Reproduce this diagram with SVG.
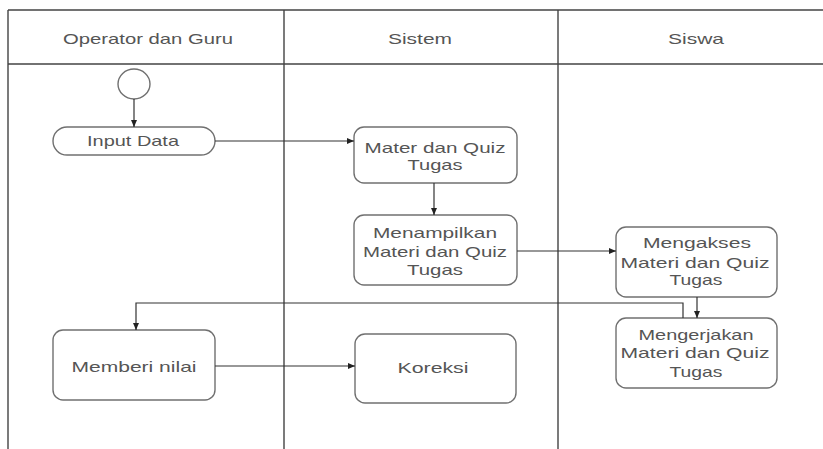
<svg xmlns="http://www.w3.org/2000/svg" width="823" height="449" viewBox="0 0 823 449">
<defs>
<marker id="arr" markerUnits="userSpaceOnUse" markerWidth="8" markerHeight="8" refX="7" refY="4" orient="auto">
<path d="M0,1 L7,4 L0,7 Z" fill="#222"/>
</marker>
<style>
.frame{stroke:#444;stroke-width:1.4;fill:none}
.node{fill:#fff;stroke:#707070;stroke-width:1.4}
.edge{fill:none;stroke:#333;stroke-width:1.2;marker-end:url(#arr)}
text{font-family:"Liberation Sans",Arial,sans-serif;font-size:15px;fill:#555;text-anchor:middle}
</style>
</defs>
<rect width="823" height="449" fill="#fff"/>
<g id="lanes">
<path class="frame" d="M8,10 H823 M8,64 H823 M8,10 V449 M284,10 V449 M558,10 V449"/>
<text x="148" y="44" textLength="170" lengthAdjust="spacingAndGlyphs">Operator dan Guru</text>
<text x="420" y="44" textLength="64" lengthAdjust="spacingAndGlyphs">Sistem</text>
<text x="696" y="44" textLength="56" lengthAdjust="spacingAndGlyphs">Siswa</text>
</g>
<g id="start"><ellipse class="node" cx="134" cy="84" rx="16" ry="15"/></g>
<g id="input-data">
<rect class="node" x="53" y="127" width="162" height="28" rx="14"/>
<text x="133" y="146" textLength="92" lengthAdjust="spacingAndGlyphs">Input Data</text>
</g>
<g id="mater">
<rect class="node" x="354" y="127" width="163" height="56" rx="10"/>
<text x="435" y="153" textLength="141" lengthAdjust="spacingAndGlyphs">Mater dan Quiz</text>
<text x="435" y="170" textLength="55" lengthAdjust="spacingAndGlyphs">Tugas</text>
</g>
<g id="menampilkan">
<rect class="node" x="354" y="215" width="163" height="70" rx="10"/>
<text x="435" y="238" textLength="124" lengthAdjust="spacingAndGlyphs">Menampilkan</text>
<text x="435" y="257" textLength="144" lengthAdjust="spacingAndGlyphs">Materi dan Quiz</text>
<text x="435" y="275" textLength="56" lengthAdjust="spacingAndGlyphs">Tugas</text>
</g>
<g id="mengakses">
<rect class="node" x="616" y="227" width="161" height="70" rx="10"/>
<text x="697" y="248" textLength="108" lengthAdjust="spacingAndGlyphs">Mengakses</text>
<text x="695" y="268" textLength="149" lengthAdjust="spacingAndGlyphs">Materi dan Quiz</text>
<text x="696" y="285" textLength="53" lengthAdjust="spacingAndGlyphs">Tugas</text>
</g>
<g id="mengerjakan">
<rect class="node" x="616" y="318" width="161" height="70" rx="10"/>
<text x="696" y="340" textLength="115" lengthAdjust="spacingAndGlyphs">Mengerjakan</text>
<text x="695" y="358" textLength="149" lengthAdjust="spacingAndGlyphs">Materi dan Quiz</text>
<text x="696" y="377" textLength="53" lengthAdjust="spacingAndGlyphs">Tugas</text>
</g>
<g id="memberi-nilai">
<rect class="node" x="53" y="330" width="162" height="70" rx="10"/>
<text x="134" y="372" textLength="125" lengthAdjust="spacingAndGlyphs">Memberi nilai</text>
</g>
<g id="koreksi">
<rect class="node" x="355" y="334" width="161" height="69" rx="10"/>
<text x="433" y="373" textLength="71" lengthAdjust="spacingAndGlyphs">Koreksi</text>
</g>
<g id="connectors">
<path class="edge" d="M134,99 V127"/>
<path class="edge" d="M215,141 H354"/>
<path class="edge" d="M434,183 V215"/>
<path class="edge" d="M517,251 H616"/>
<path class="edge" d="M697,297 V318"/>
<path class="edge" d="M683,318 V303 H136 V330"/>
<path class="edge" d="M215,366 H355"/>
</g>
</svg>
